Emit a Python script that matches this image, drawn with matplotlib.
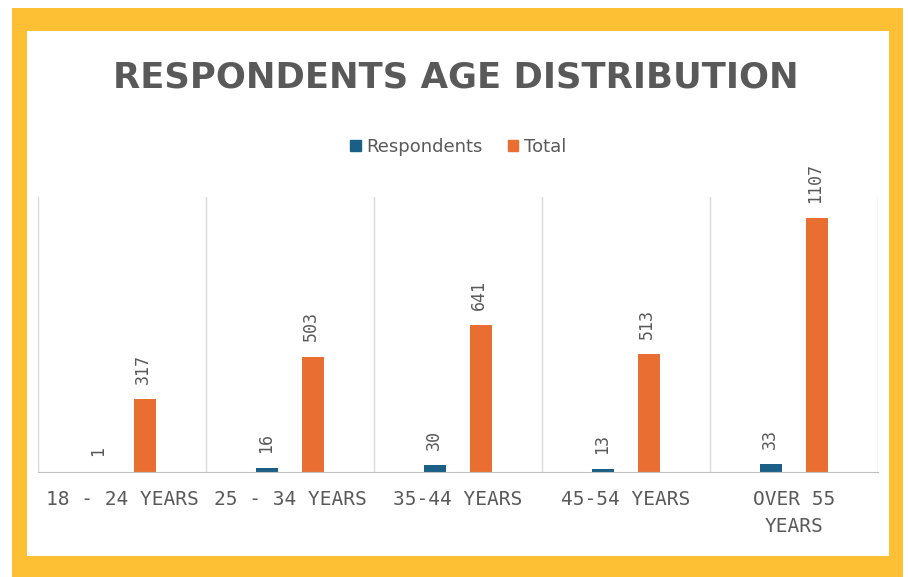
import matplotlib.pyplot as plt
from matplotlib.patches import Rectangle
import numpy as np

# chart data
CATEGORIES = ["18 - 24 YEARS", "25 - 34 YEARS", "35-44 YEARS", "45-54 YEARS", "OVER 55\nYEARS"]
RESPONDENTS = [1, 16, 30, 13, 33]
TOTAL = [317, 503, 641, 513, 1107]

BLUE = "#1B5E86"
ORANGE = "#E86F31"
YELLOW = "#FDBF33"
GREY_TEXT = "#595959"
GRID = "#D9D9D9"

fig = plt.figure(figsize=(9.08, 5.77), dpi=100)
W, H = 908.0, 577.0

# yellow frame with white inner panel (behind the axes)
fig.patches.append(Rectangle((12 / W, 0), (903 - 12) / W, (577 - 8) / H,
                             transform=fig.transFigure, facecolor=YELLOW, edgecolor="none", zorder=-2))
fig.patches.append(Rectangle((27 / W, (577 - 556) / H), (889 - 27) / W, (556 - 31) / H,
                             transform=fig.transFigure, facecolor="white", edgecolor="none", zorder=-1))

ax = fig.add_axes([38 / W, 1 - 472 / H, (878 - 38) / W, (472 - 197) / H])
ax.set_facecolor("none")

x = np.arange(len(CATEGORIES))
width = 0.13
off = 0.135
bars_r = ax.bar(x - off, RESPONDENTS, width, color=BLUE, label="Respondents", zorder=3)
bars_t = ax.bar(x + off, TOTAL, width, color=ORANGE, label="Total", zorder=3)

for bars, vals in ((bars_r, RESPONDENTS), (bars_t, TOTAL)):
    for b, v in zip(bars, vals):
        ax.annotate(str(v), (b.get_x() + b.get_width() / 2, b.get_height()),
                    xytext=(-1, 11), textcoords="offset points", rotation=90,
                    ha="center", va="bottom", fontsize=12, color=GREY_TEXT,
                    family="DejaVu Sans Mono")

ax.set_xlim(-0.5, 4.5)
ax.set_ylim(0, 1200)
ax.set_yticks([])
for sep in np.arange(-0.5, 5.0, 1.0):
    ax.axvline(sep, color=GRID, linewidth=1, zorder=1)
for s in ["top", "left", "right"]:
    ax.spines[s].set_visible(False)
ax.spines["bottom"].set_color("#BFBFBF")
ax.spines["bottom"].set_zorder(4)

ax.set_xticks(x)
ax.set_xticklabels(CATEGORIES, fontsize=14, color=GREY_TEXT, linespacing=1.5,
                   family="DejaVu Sans Mono")
ax.tick_params(axis="x", length=0, pad=13)

fig.text(456 / W, 1 - 78 / H, "RESPONDENTS AGE DISTRIBUTION", ha="center", va="center",
         fontsize=25.5, fontweight="bold", color=GREY_TEXT)

handles = [Rectangle((0, 0), 1, 1, color=BLUE), Rectangle((0, 0), 1, 1, color=ORANGE)]
fig.legend(handles, ["Respondents", "Total"], loc="center", bbox_to_anchor=(458 / W, 1 - 147 / H),
           ncol=2, frameon=False, fontsize=13, labelcolor=GREY_TEXT,
           handlelength=0.6, handleheight=0.6, handletextpad=0.3, columnspacing=1.4)

fig.savefig("out.png", dpi=100, facecolor="white")
